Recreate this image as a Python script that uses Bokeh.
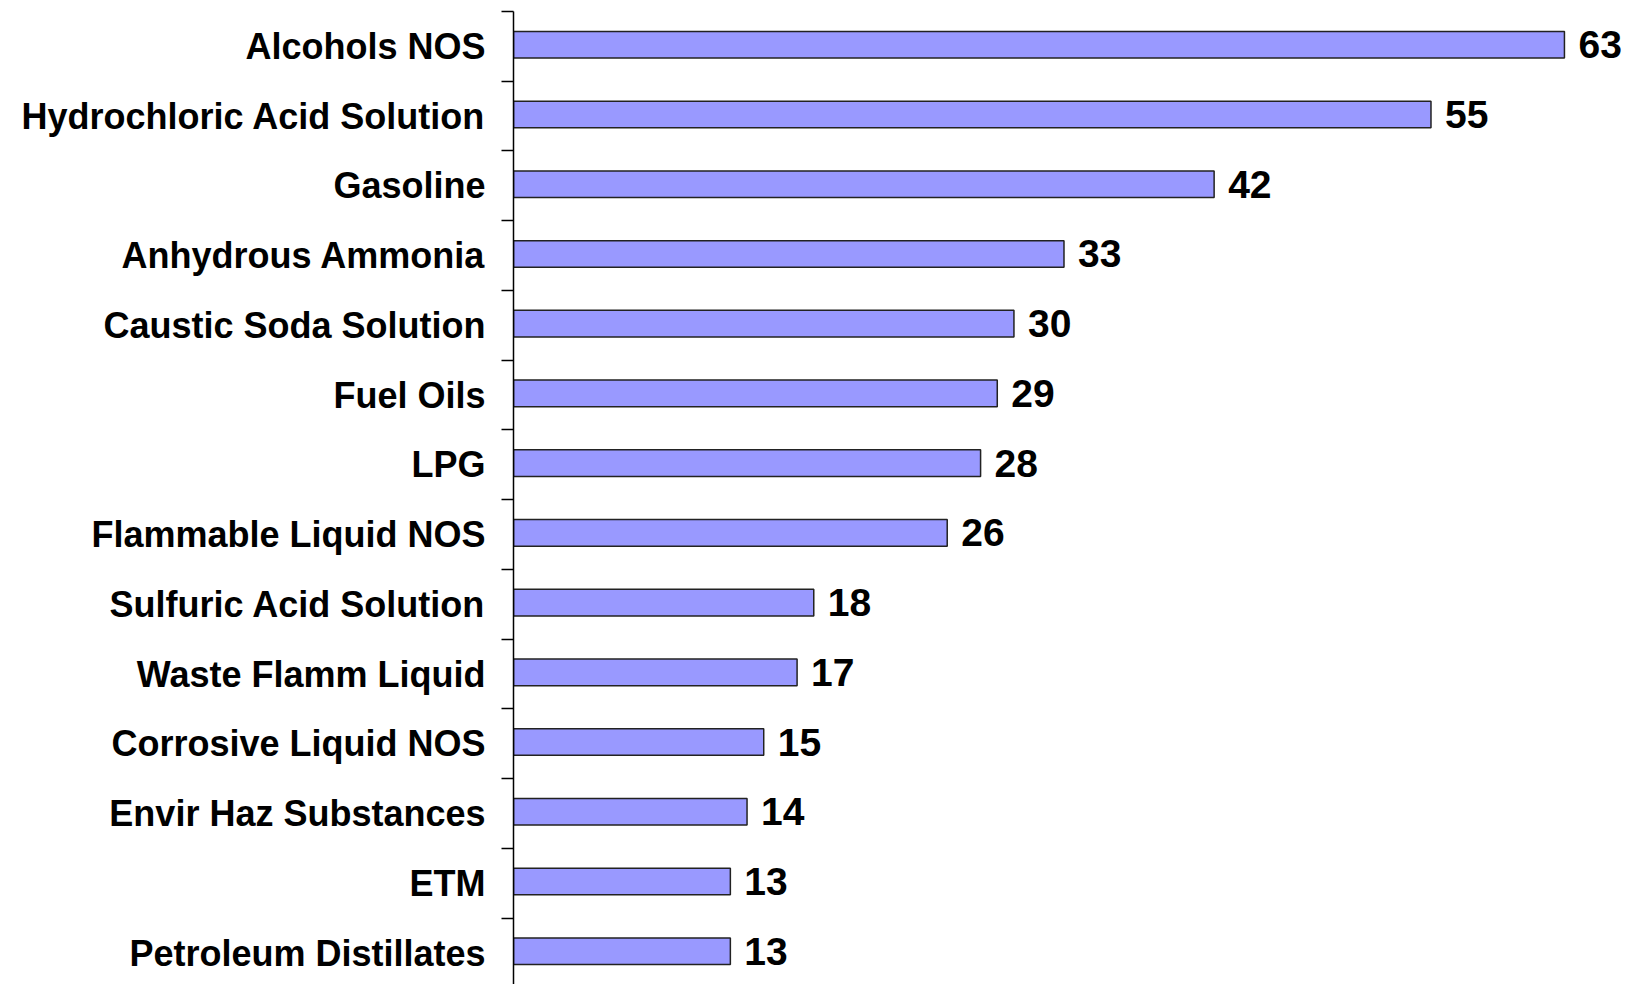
from bokeh.plotting import figure
from bokeh.models import ColumnDataSource, Range1d, FixedTicker
from bokeh.core.properties import value
from bokeh.transform import dodge
from bokeh.embed import file_html
from bokeh.resources import INLINE

categories = [
    "Alcohols NOS",
    "Hydrochloric Acid Solution",
    "Gasoline",
    "Anhydrous Ammonia",
    "Caustic Soda Solution",
    "Fuel Oils",
    "LPG",
    "Flammable Liquid NOS",
    "Sulfuric Acid Solution",
    "Waste Flamm Liquid",
    "Corrosive Liquid NOS",
    "Envir Haz Substances",
    "ETM",
    "Petroleum Distillates",
]
counts = [63, 55, 42, 33, 30, 29, 28, 26, 18, 17, 15, 14, 13, 13]

pos = list(range(len(categories)))
src = ColumnDataSource(dict(
    y=pos,
    v=counts,
    lbl=[str(c) for c in counts],
))

p = figure(
    width=1629, height=984,
    output_backend="svg", toolbar_location=None,
    x_range=Range1d(0, 66.9),
    y_range=Range1d(start=-0.5 + 13.95, end=-0.5),
    x_axis_location=None,
    min_border_left=513, min_border_top=11, min_border_bottom=0, min_border_right=0,
)
p.outline_line_color = None
p.xgrid.visible = False
p.ygrid.visible = False
p.background_fill_color = "white"

ypos = dodge("y", -0.025, range=p.y_range)

p.hbar(y=ypos, right="v", left=0, height=0.38, source=src,
       fill_color="#9999FF", line_color="#222222", line_width=1.5)

p.text(x="v", y=ypos, text="lbl", source=src, x_offset=14,
       text_align="left", text_baseline="middle",
       text_font=value("Liberation Sans"), text_font_style="bold",
       text_font_size="39px", text_color="black")

ax = p.yaxis[0]
ax.ticker = FixedTicker(ticks=pos, minor_ticks=[i - 0.5 for i in range(len(categories) + 1)])
ax.major_label_overrides = {i: c for i, c in zip(pos, categories)}
ax.major_tick_out = 0
ax.major_tick_in = 0
ax.minor_tick_out = 12
ax.minor_tick_in = 0
ax.minor_tick_line_color = "black"
ax.minor_tick_line_width = 1.5
ax.axis_line_color = "black"
ax.axis_line_width = 1.5
ax.major_label_standoff = 16
ax.major_label_text_font = "Liberation Sans"
ax.major_label_text_font_style = "bold"
ax.major_label_text_font_size = "36px"
ax.major_label_text_color = "black"

open("out.html", "w").write(file_html(p, INLINE))
